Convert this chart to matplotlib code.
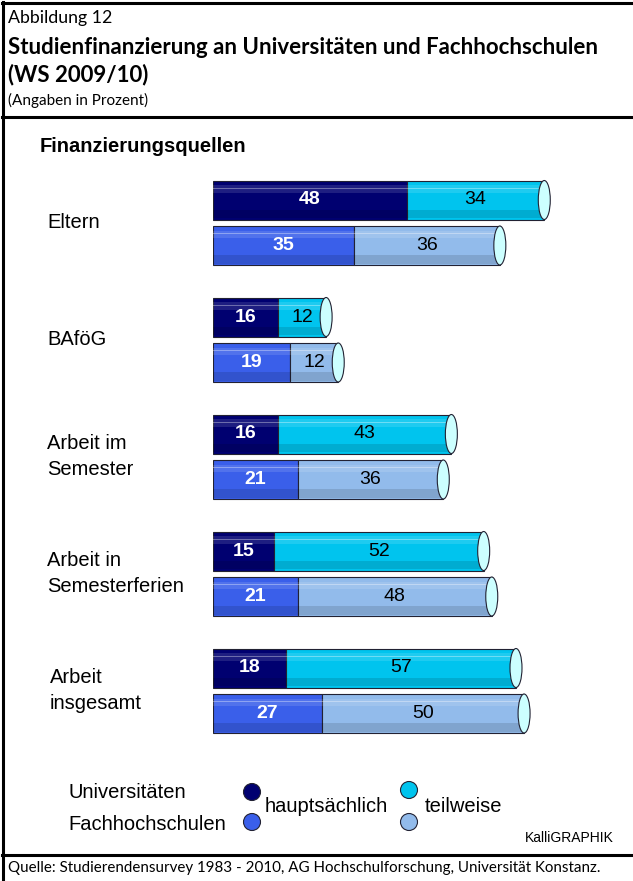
import matplotlib
matplotlib.use('Agg')
import matplotlib.pyplot as plt
from matplotlib.patches import Ellipse, Circle
from matplotlib.lines import Line2D

# data
cats = ['Eltern', 'BAföG', 'Arbeit im\nSemester', 'Arbeit in\nSemesterferien', 'Arbeit\ninsgesamt']
uni_haupt = [48, 16, 16, 15, 18]
uni_teil = [34, 12, 43, 52, 57]
fh_haupt = [35, 19, 21, 21, 27]
fh_teil = [36, 12, 36, 48, 50]

W, H = 633, 881
fig = plt.figure(figsize=(W / 100, H / 100), dpi=100)

hdr = 'Lato'
lab = 'Liberation Sans'

def ftxt(x, y, s, **kw):
    kw.setdefault('va', 'center')
    return fig.text(x / W, 1 - y / H, s, **kw)

# frame lines
bg = fig.add_axes([0, 0, 1, 1])
bg.set_xlim(0, W); bg.set_ylim(H, 0); bg.axis('off')
for y in (3, 117, 855):
    bg.add_line(Line2D([2, W], [y, y], color='black', lw=2.2))
bg.add_line(Line2D([3, 3], [2, H], color='black', lw=2.2))

# header
ftxt(8, 18, 'Abbildung 12', family=hdr, fontsize=12.8)
ftxt(8, 47, 'Studienfinanzierung an Universitäten und Fachhochschulen', family=hdr, fontsize=16, fontweight='bold')
ftxt(8, 75, '(WS 2009/10)', family=hdr, fontsize=16, fontweight='bold')
ftxt(8, 100, '(Angaben in Prozent)', family=hdr, fontsize=11)
ftxt(8, 868, 'Quelle: Studierendensurvey 1983 - 2010, AG Hochschulforschung, Universität Konstanz.',
     family=hdr, fontsize=10.9)

ftxt(40, 146, 'Finanzierungsquellen', family=lab, fontsize=14.5, fontweight='bold')

# bars
x0, scale = 213, 4.04
ax = fig.add_axes([x0 / W, 0, 100 * scale / W, 1])
ax.set_xlim(0, 100); ax.set_ylim(H, 0); ax.axis('off')

bh = 39
cap_w = 12 / scale
rows = [
    (uni_haupt, uni_teil, '#000070', '#00c4ee', 0),
    (fh_haupt, fh_teil, '#3a5fea', '#92bbeb', 45.5),
]
for i, cat in enumerate(cats):
    yc = 200 + 117 * i
    for haupt, teil, c1, c2, dy in rows:
        y = yc + dy
        h, t = haupt[i], teil[i]
        ax.barh(y, h, height=bh, left=0, color=c1, edgecolor='#222233', lw=0.8, zorder=2)
        ax.barh(y, t, height=bh, left=h, color=c2, edgecolor='#222233', lw=0.8, zorder=2)
        # cylinder shading
        for left, w in ((0, h), (h, t)):
            ax.barh(y - bh * 0.28, w, height=bh * 0.2, left=left, color='white', alpha=0.12, lw=0, zorder=3)
            ax.barh(y - bh * 0.30, w, height=1.2, left=left, color='white', alpha=0.35, lw=0, zorder=3)
            ax.barh(y + bh * 0.36, w, height=bh * 0.22, left=left, color='black', alpha=0.12, lw=0, zorder=3)
        ax.add_patch(Ellipse((h + t, y), cap_w, bh, facecolor='#ccffff', edgecolor='#222233', lw=0.8, zorder=4))
        ax.text(h / 2, y, str(h), ha='center', va='center', color='white',
                fontweight='bold', family=lab, fontsize=14, zorder=5)
        ax.text(h + t / 2, y, str(t), ha='center', va='center', color='black',
                family=lab, fontsize=14, zorder=5)
    ly = yc + 22.75
    xl = 50 if cat.startswith('Arbeit\n') else 47
    ftxt(xl, ly, cat, family=lab, fontsize=14.5, linespacing=1.45)

# legend
ftxt(68, 793, 'Universitäten', family=lab, fontsize=14.5)
ftxt(68, 825, 'Fachhochschulen', family=lab, fontsize=14.5)
ftxt(265, 806, 'hauptsächlich', family=lab, fontsize=14.5)
ftxt(425, 806, 'teilweise', family=lab, fontsize=14.5)
for (cx, cy), col in zip([(252, 792), (252, 822), (409, 790), (409, 822)],
                         ['#000070', '#3a5fea', '#00c4ee', '#92bbeb']):
    bg.add_patch(Circle((cx, cy), 8.5, facecolor=col, edgecolor='#222233', lw=0.8))
ftxt(525, 838, 'KalliGRAPHIK', family=lab, fontsize=10)

fig.savefig('out.png', dpi=100)
